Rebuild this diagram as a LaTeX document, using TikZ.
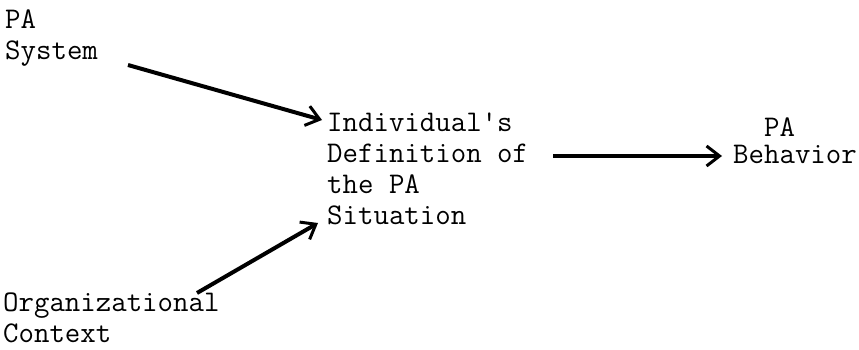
\documentclass[tikz,border=0pt]{standalone}
\usepackage{fontspec}
\usepackage{tikz}
\usetikzlibrary{arrows.meta}

\begin{document}
\begin{tikzpicture}[x=1pt, y=-1pt,
    every node/.style={font=\ttfamily\fontsize{30}{31}\selectfont, inner sep=0pt, align=left, anchor=base west},
    paarrow/.style={line width=4pt, -{Straight Barb[length=13pt, width=20pt, line width=3pt]}}]
            \useasboundingbox (0,0) rectangle (859,350);

            % base of each text block is its last line
            \node (sys) at (5,60) {PA\\System};
            \node (org) at (3,342) {Organizational\\Context};
            \node (defn) at (327,224) {Individual's\\Definition of\\the PA\\Situation};
            \node (beh) at (733,163) {\phantom{Be}PA\\[-5pt]Behavior};

            \coordinate (sysOut) at (128,65);
            \coordinate (orgOut) at (197,293);
            \coordinate (defnOut) at (553,156);

            \draw[paarrow] (sysOut) -- ([shift={(-5pt,104pt)}]defn.base west);
            \draw[paarrow] (orgOut) -- ([shift={(-9pt,1pt)}]defn.base west);
            \draw[paarrow] (defnOut) -- ([shift={(-11pt,7pt)}]beh.base west);
        \end{tikzpicture}
\end{document}
